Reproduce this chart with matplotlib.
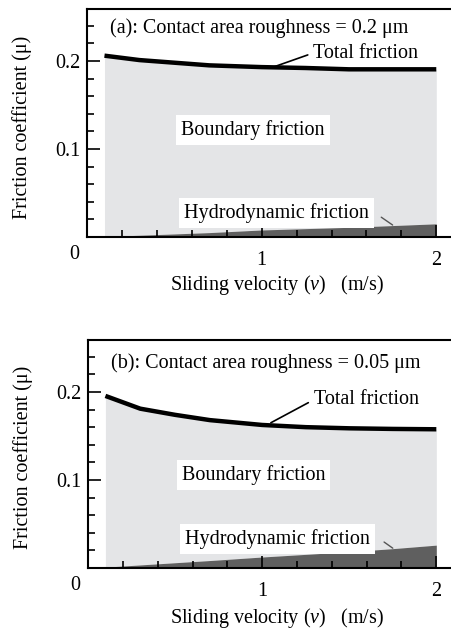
"""Friction coefficient vs sliding velocity for two contact roughnesses."""

import matplotlib
matplotlib.use("Agg")
from matplotlib import pyplot as plt
from matplotlib.ticker import MultipleLocator

FONT = {"family": "Liberation Serif", "size": 14.5}

VELOCITY = [0.1, 0.3, 0.5, 0.7, 1.0, 1.25, 1.5, 1.75, 2.0]

TOTAL_A = [0.206, 0.201, 0.198, 0.195, 0.193, 0.192, 0.1905, 0.1905, 0.1905]
HYDRO_A = [0.0005, 0.002, 0.0035, 0.005, 0.008, 0.0095, 0.011, 0.013, 0.015]

TOTAL_B = [0.1955, 0.181, 0.174, 0.168, 0.1625, 0.160, 0.1587, 0.158, 0.1576]
HYDRO_B = [0.001, 0.0035, 0.006, 0.0085, 0.0125, 0.0155, 0.0185, 0.022, 0.026]

TITLES = ["(a): Contact area roughness = 0.2 \u03bcm",
          "(b): Contact area roughness = 0.05 \u03bcm"]

LIGHT = "#e4e5e7"
DARK = "#5f5f5f"

# axes rectangles in figure fraction, plus annotation anchor points (data)
PANELS = [
    {"rect": [0.1925, 0.6238, 0.8075, 0.3619],
     "total": TOTAL_A, "hydro": HYDRO_A, "title_y": 0.2375,
     "total_text": (1.295, 0.209), "total_tip": (1.066, 0.193),
     "boundary_text": (0.95, 0.1216),
     "hydro_text": (0.555, 0.027), "hydro_from": (1.685, 0.0225),
     "hydro_tip": (1.75, 0.0136),
     "xlabel_y": -0.21, "ylabel_y": 0.48},
    {"rect": [0.1947, 0.0984, 0.8053, 0.3619],
     "total": TOTAL_B, "hydro": HYDRO_B, "title_y": 0.233,
     "total_text": (1.295, 0.191), "total_tip": (1.05, 0.165),
     "boundary_text": (0.95, 0.1057),
     "hydro_text": (0.555, 0.033), "hydro_from": (1.7, 0.0295),
     "hydro_tip": (1.75, 0.0225),
     "xlabel_y": -0.219, "ylabel_y": 0.487},
]


def draw_panel(fig, panel, title):
    ax = fig.add_axes(panel["rect"])
    ax.set_xlim(0, 2.09)
    ax.set_ylim(0, 0.259)

    ax.fill_between(VELOCITY, panel["hydro"], panel["total"],
                    color=LIGHT, lw=0)
    ax.fill_between(VELOCITY, 0, panel["hydro"], color=DARK, lw=0)
    ax.plot(VELOCITY, panel["total"], color="black", lw=3.2,
            solid_capstyle="butt")

    for side in ("left", "bottom", "top"):
        ax.spines[side].set_linewidth(1.5)
    ax.spines["right"].set_visible(False)

    ax.xaxis.set_major_locator(MultipleLocator(1))
    ax.xaxis.set_minor_locator(MultipleLocator(0.2))
    ax.yaxis.set_major_locator(MultipleLocator(0.1))
    ax.yaxis.set_minor_locator(MultipleLocator(0.02))
    ax.tick_params(which="both", direction="in", top=False, right=False,
                   width=1.2)
    ax.tick_params(which="major", length=9, pad=5)
    ax.tick_params(which="minor", length=5)
    ax.tick_params(axis="x", which="major", pad=10)
    ax.set_xticks([1, 2])
    ax.set_xticklabels(["1", "2"])
    ax.set_yticks([0.1, 0.2])
    ax.set_yticklabels(["0.1", "0.2"])
    ax.text(-0.045, -0.009, "0", ha="right", va="top")

    ax.set_xlabel(r"Sliding velocity ($v$)   (m/s)")
    ax.xaxis.set_label_coords(0.52, panel["xlabel_y"])
    ax.xaxis.label.set_verticalalignment("center")
    ax.set_ylabel("Friction coefficient (\u03bc)")
    ax.yaxis.set_label_coords(-0.178, panel["ylabel_y"])
    ax.yaxis.label.set_verticalalignment("center")

    ax.text(0.13, panel["title_y"], title, va="center")

    ax.annotate("Total friction", xy=panel["total_tip"],
                xytext=panel["total_text"], va="center",
                arrowprops=dict(arrowstyle="-", color="black", lw=1.2,
                                shrinkA=2, shrinkB=0,
                                relpos=(0, 0.5)))
    box = dict(boxstyle="square,pad=0.25", fc="white", ec="none")
    ax.text(*panel["boundary_text"], "Boundary friction", ha="center",
            va="center", bbox=box)
    ax.text(*panel["hydro_text"], "Hydrodynamic friction", ha="left",
            va="center", bbox=box, zorder=3)
    ax.annotate("", xy=panel["hydro_tip"], xytext=panel["hydro_from"],
                arrowprops=dict(arrowstyle="-", color="#555555", lw=1,
                                shrinkA=0, shrinkB=0))
    return ax


def main():
    plt.rc("font", **FONT)
    plt.rc("mathtext", fontset="custom", rm="Liberation Serif",
           it="Liberation Serif:italic")
    fig = plt.figure(figsize=(4.52, 6.30), dpi=100)
    for panel, title in zip(PANELS, TITLES):
        draw_panel(fig, panel, title)
    fig.savefig("out.png", dpi=100)


if __name__ == "__main__":
    main()
